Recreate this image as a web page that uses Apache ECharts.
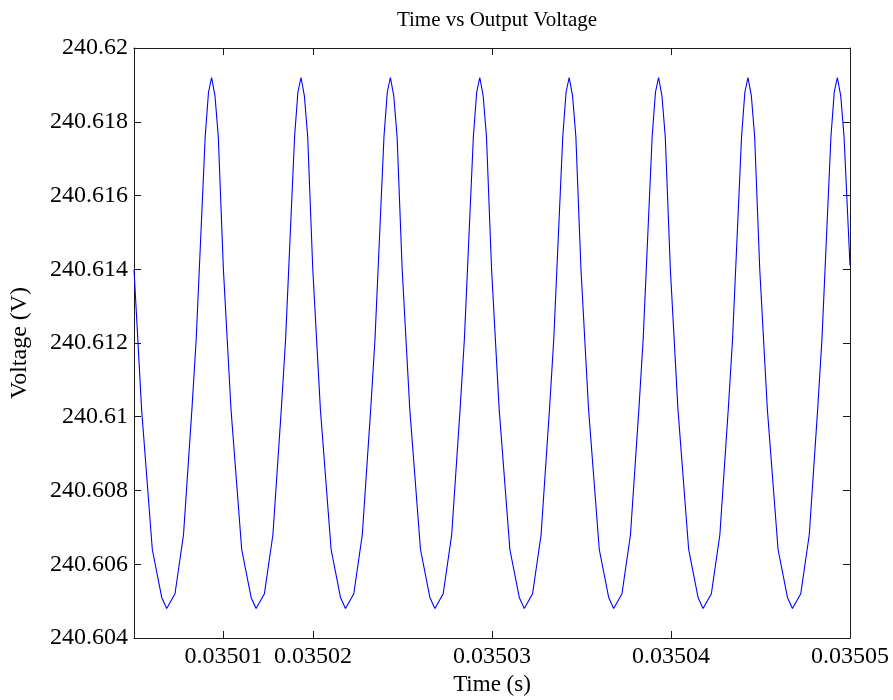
<!DOCTYPE html>
<html>
<head>
<meta charset="utf-8">
<script src="https://cdn.jsdelivr.net/npm/echarts@6/dist/echarts.min.js"></script>
<style>
  html, body { margin: 0; padding: 0; background: #ffffff; }
  #chart { width: 893px; height: 700px; }
</style>
</head>
<body>
<div id="chart"></div>
<script>
// ---- Data ----
const timeS = [
  0.035010000, 0.035010425, 0.035011023, 0.035011548, 0.035011827, 0.035012291, 0.035012766, 0.035013235, 0.035013475, 0.035013978, 0.035014162,
  0.035014335, 0.035014525, 0.035014709, 0.035014994, 0.035015419, 0.035016017, 0.035016542, 0.035016821, 0.035017285, 0.035017760, 0.035018229, 0.035018469, 0.035018972, 0.035019156,
  0.035019329, 0.035019519, 0.035019703, 0.035019988, 0.035020413, 0.035021011, 0.035021536, 0.035021815, 0.035022279, 0.035022754, 0.035023223, 0.035023463, 0.035023966, 0.035024150,
  0.035024323, 0.035024513, 0.035024697, 0.035024982, 0.035025407, 0.035026005, 0.035026530, 0.035026809, 0.035027273, 0.035027748, 0.035028217, 0.035028457, 0.035028960, 0.035029144,
  0.035029317, 0.035029507, 0.035029691, 0.035029976, 0.035030401, 0.035030999, 0.035031524, 0.035031803, 0.035032267, 0.035032742, 0.035033211, 0.035033451, 0.035033954, 0.035034138,
  0.035034311, 0.035034501, 0.035034685, 0.035034970, 0.035035395, 0.035035993, 0.035036518, 0.035036797, 0.035037261, 0.035037736, 0.035038205, 0.035038445, 0.035038948, 0.035039132,
  0.035039305, 0.035039495, 0.035039679, 0.035039964, 0.035040389, 0.035040987, 0.035041512, 0.035041791, 0.035042255, 0.035042730, 0.035043199, 0.035043439, 0.035043942, 0.035044126,
  0.035044299, 0.035044489, 0.035044673, 0.035044958, 0.035045383, 0.035045981, 0.035046506, 0.035046785, 0.035047249, 0.035047724, 0.035048193, 0.035048433, 0.035048936, 0.035049120,
  0.035049293, 0.035049483, 0.035049667, 0.035050000
];
const voltageV = [
  240.6140, 240.6102, 240.6064, 240.6051, 240.6048, 240.6052, 240.6068, 240.6102, 240.6121, 240.6176, 240.6188,
  240.6192, 240.6187, 240.6176, 240.6140, 240.6102, 240.6064, 240.6051, 240.6048, 240.6052, 240.6068, 240.6102, 240.6121, 240.6176, 240.6188,
  240.6192, 240.6187, 240.6176, 240.6140, 240.6102, 240.6064, 240.6051, 240.6048, 240.6052, 240.6068, 240.6102, 240.6121, 240.6176, 240.6188,
  240.6192, 240.6187, 240.6176, 240.6140, 240.6102, 240.6064, 240.6051, 240.6048, 240.6052, 240.6068, 240.6102, 240.6121, 240.6176, 240.6188,
  240.6192, 240.6187, 240.6176, 240.6140, 240.6102, 240.6064, 240.6051, 240.6048, 240.6052, 240.6068, 240.6102, 240.6121, 240.6176, 240.6188,
  240.6192, 240.6187, 240.6176, 240.6140, 240.6102, 240.6064, 240.6051, 240.6048, 240.6052, 240.6068, 240.6102, 240.6121, 240.6176, 240.6188,
  240.6192, 240.6187, 240.6176, 240.6140, 240.6102, 240.6064, 240.6051, 240.6048, 240.6052, 240.6068, 240.6102, 240.6121, 240.6176, 240.6188,
  240.6192, 240.6187, 240.6176, 240.6140, 240.6102, 240.6064, 240.6051, 240.6048, 240.6052, 240.6068, 240.6102, 240.6121, 240.6176, 240.6188,
  240.6192, 240.6187, 240.6176, 240.6141
];
const xTickValues = [0.035015, 0.03502, 0.03503, 0.03504, 0.03505];
const xTickLabels = ['0.03501', '0.03502', '0.03503', '0.03504', '0.03505'];
const yTickValues = [240.604, 240.606, 240.608, 240.61, 240.612, 240.614, 240.616, 240.618, 240.62];
const yTickLabels = ['240.604', '240.606', '240.608', '240.61', '240.612', '240.614', '240.616', '240.618', '240.62'];

const X_MIN = 0.03501, X_MAX = 0.03505;
const Y_MIN = 240.604, Y_MAX = 240.62;

const FONT = '"Liberation Serif", "DejaVu Serif", serif';
const AXIS_COLOR = '#1a1a1a';

function nearestLabel(values, labels, v) {
  let best = 0, bd = Infinity;
  for (let i = 0; i < values.length; i++) {
    const d = Math.abs(values[i] - v);
    if (d < bd) { bd = d; best = i; }
  }
  return labels[best];
}

const seriesData = timeS.map((t, i) => [t, voltageV[i]]);

const chart = echarts.init(document.getElementById('chart'), null, { renderer: 'canvas' });

const commonLine = { show: true, onZero: false, lineStyle: { color: AXIS_COLOR, width: 1 } };
const commonTick = { show: true, inside: true, length: 7, lineStyle: { color: AXIS_COLOR, width: 1 } };

chart.setOption({
  backgroundColor: '#ffffff',
  animation: false,
  title: {
    text: 'Time vs Output Voltage',
    left: 492,
    textAlign: 'center',
    top: 5,
    textStyle: { fontFamily: FONT, fontSize: 21, fontWeight: 'normal', color: '#000' }
  },
  grid: {
    left: 134, top: 48, width: 716, height: 590,
    containLabel: false,
    outerBoundsMode: 'none',
    show: false
  },
  xAxis: [
    {
      type: 'value', position: 'bottom',
      min: X_MIN, max: X_MAX, interval: 0.000005,
      name: 'Time (s)', nameLocation: 'middle', nameGap: 33,
      nameTextStyle: { fontFamily: FONT, fontSize: 23, color: '#000' },
      axisLine: commonLine,
      axisTick: Object.assign({}, commonTick, { customValues: xTickValues }),
      axisLabel: {
        customValues: xTickValues,
        margin: 7,
        fontFamily: FONT, fontSize: 24, color: '#000',
        formatter: v => nearestLabel(xTickValues, xTickLabels, v)
      },
      splitLine: { show: false }
    },
    {
      type: 'value', position: 'top',
      min: X_MIN, max: X_MAX, interval: 0.000005,
      axisLine: commonLine,
      axisTick: Object.assign({}, commonTick, { customValues: xTickValues }),
      axisLabel: { show: false },
      splitLine: { show: false }
    }
  ],
  yAxis: [
    {
      type: 'value', position: 'left',
      min: Y_MIN, max: Y_MAX, interval: 0.002,
      name: 'Voltage (V)', nameLocation: 'middle', nameGap: 102, nameRotate: 90,
      nameTextStyle: { fontFamily: FONT, fontSize: 24, color: '#000' },
      axisLine: commonLine,
      axisTick: commonTick,
      axisLabel: {
        margin: 6,
        fontFamily: FONT, fontSize: 24, color: '#000',
        formatter: v => nearestLabel(yTickValues, yTickLabels, v)
      },
      splitLine: { show: false }
    },
    {
      type: 'value', position: 'right',
      min: Y_MIN, max: Y_MAX, interval: 0.002,
      axisLine: commonLine,
      axisTick: commonTick,
      axisLabel: { show: false },
      splitLine: { show: false }
    }
  ],
  series: [
    {
      type: 'line',
      xAxisIndex: 0, yAxisIndex: 0,
      data: seriesData,
      showSymbol: false,
      symbol: 'none',
      clip: true,
      lineStyle: { color: '#0000ff', width: 1.1 },
      silent: true
    }
  ]
});
</script>
</body>
</html>
